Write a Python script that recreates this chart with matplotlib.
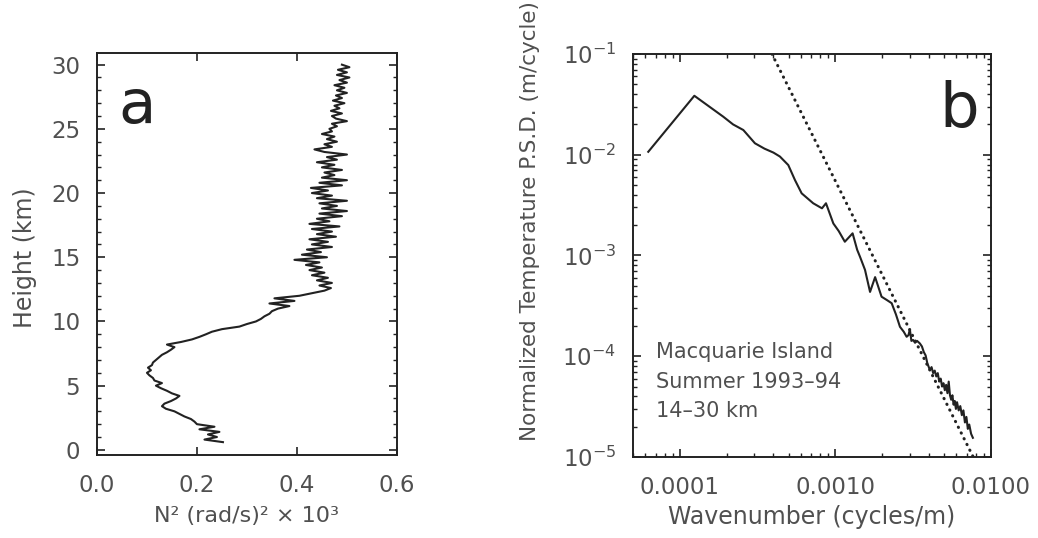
import numpy as np
import matplotlib
matplotlib.use("Agg")
import matplotlib.pyplot as plt
from matplotlib.ticker import MultipleLocator, LogLocator, NullFormatter

# panel a: N^2 profile (height in km, N^2 in (rad/s)^2 x 10^3)
height_km = [
    0.6, 0.8, 1.0, 1.2, 1.4, 1.6, 1.8, 2.0, 2.2, 2.4, 2.6, 2.8, 3.0, 3.2, 3.4, 3.6, 3.8, 4.0,
    4.2, 4.4, 4.6, 4.8, 5.0, 5.2, 5.4, 5.6, 5.8, 6.0, 6.2, 6.4, 6.6, 6.8, 7.0, 7.2, 7.4, 7.6,
    7.8, 8.0, 8.2, 8.4, 8.6, 8.8, 9.0, 9.2, 9.4, 9.6, 9.8, 10.0, 10.2, 10.4, 10.6, 10.8, 11.0,
    11.2, 11.4, 11.6, 11.8, 12.0, 12.2, 12.4, 12.6, 12.8, 13.0, 13.2, 13.4, 13.6, 13.8, 14.0,
    14.2, 14.4, 14.6, 14.8, 15.0, 15.2, 15.4, 15.6, 15.8, 16.0, 16.2, 16.4, 16.6, 16.8, 17.0,
    17.2, 17.4, 17.6, 17.8, 18.0, 18.2, 18.4, 18.6, 18.8, 19.0, 19.2, 19.4, 19.6, 19.8, 20.0,
    20.2, 20.4, 20.6, 20.8, 21.0, 21.2, 21.4, 21.6, 21.8, 22.0, 22.2, 22.4, 22.6, 22.8, 23.0,
    23.2, 23.4, 23.6, 23.8, 24.0, 24.2, 24.4, 24.6, 24.8, 25.0, 25.2, 25.4, 25.6, 25.8, 26.0,
    26.2, 26.4, 26.6, 26.8, 27.0, 27.2, 27.4, 27.6, 27.8, 28.0, 28.2, 28.4, 28.6, 28.8, 29.0,
    29.2, 29.4, 29.6, 29.8, 30.0,
]
n2 = [
    0.252, 0.215, 0.240, 0.222, 0.245, 0.205, 0.235, 0.200, 0.195, 0.188, 0.175, 0.165, 0.155,
    0.138, 0.130, 0.135, 0.148, 0.158, 0.165, 0.150, 0.140, 0.128, 0.118, 0.130, 0.115, 0.112,
    0.105, 0.100, 0.108, 0.102, 0.110, 0.112, 0.118, 0.124, 0.130, 0.140, 0.148, 0.155, 0.140,
    0.168, 0.190, 0.205, 0.218, 0.230, 0.250, 0.285, 0.300, 0.318, 0.328, 0.335, 0.345, 0.350,
    0.362, 0.385, 0.345, 0.395, 0.355, 0.405, 0.430, 0.455, 0.468, 0.445, 0.470, 0.440, 0.462,
    0.430, 0.455, 0.425, 0.450, 0.418, 0.445, 0.395, 0.460, 0.410, 0.448, 0.420, 0.470, 0.430,
    0.462, 0.425, 0.478, 0.440, 0.470, 0.430, 0.485, 0.425, 0.465, 0.440, 0.490, 0.445, 0.500,
    0.450, 0.480, 0.445, 0.500, 0.440, 0.470, 0.430, 0.462, 0.428, 0.490, 0.445, 0.500, 0.450,
    0.475, 0.455, 0.490, 0.450, 0.475, 0.440, 0.480, 0.460, 0.500, 0.455, 0.435, 0.470, 0.455,
    0.480, 0.460, 0.475, 0.450, 0.470, 0.465, 0.480, 0.470, 0.500, 0.478, 0.470, 0.490, 0.468,
    0.485, 0.475, 0.495, 0.472, 0.490, 0.478, 0.500, 0.480, 0.495, 0.475, 0.500, 0.485, 0.505,
    0.480, 0.500, 0.482, 0.505, 0.490,
]

# panel b: temperature spectrum (cycles/m, m/cycle)
wavenumber = [
    6.27e-5, 1.24e-4, 1.55e-4, 1.9e-4, 2.2e-4, 2.56e-4, 3.04e-4, 3.5e-4, 4.0e-4, 4.4e-4,
    4.98e-4, 5.5e-4, 6.07e-4, 7.2e-4, 8.2e-4, 8.7e-4, 9.7e-4, 1.05e-3, 1.15e-3, 1.29e-3,
    1.38e-3, 1.44e-3, 1.55e-3, 1.67e-3, 1.80e-3, 1.98e-3, 2.15e-3, 2.30e-3, 2.45e-3, 2.6e-3,
    2.75e-3, 2.87e-3, 2.95e-3, 3.01e-3, 3.08e-3, 3.16e-3, 3.25e-3, 3.35e-3, 3.49e-3, 3.6e-3,
    3.7e-3, 3.8e-3, 3.9e-3, 4.05e-3, 4.15e-3, 4.25e-3, 4.35e-3, 4.45e-3, 4.55e-3, 4.65e-3,
    4.75e-3, 4.85e-3, 4.95e-3, 5.05e-3, 5.15e-3, 5.25e-3, 5.35e-3, 5.45e-3, 5.55e-3, 5.65e-3,
    5.75e-3, 5.85e-3, 5.95e-3, 6.05e-3, 6.2e-3, 6.35e-3, 6.5e-3, 6.65e-3, 6.8e-3, 6.95e-3,
    7.1e-3, 7.25e-3, 7.45e-3, 7.65e-3,
]
psd = [
    1.07e-2, 3.85e-2, 3.0e-2, 2.39e-2, 2.0e-2, 1.76e-2, 1.30e-2, 1.15e-2, 1.05e-2, 9.6e-3,
    7.9e-3, 5.6e-3, 4.14e-3, 3.3e-3, 2.94e-3, 3.3e-3, 2.08e-3, 1.75e-3, 1.37e-3, 1.66e-3,
    1.14e-3, 9.7e-4, 7.2e-4, 4.35e-4, 6.1e-4, 3.9e-4, 3.6e-4, 3.36e-4, 2.6e-4, 1.96e-4,
    1.75e-4, 1.56e-4, 1.62e-4, 1.85e-4, 1.42e-4, 1.45e-4, 1.36e-4, 1.42e-4, 1.34e-4, 1.25e-4,
    1.10e-4, 1.02e-4, 8.5e-5, 7.3e-5, 7.8e-5, 6.8e-5, 7.2e-5, 6.3e-5, 6.8e-5, 5.6e-5,
    6.0e-5, 5.0e-5, 5.4e-5, 4.6e-5, 5.2e-5, 4.3e-5, 5.6e-5, 4.1e-5, 3.7e-5, 4.1e-5,
    3.3e-5, 3.6e-5, 3.0e-5, 3.5e-5, 2.9e-5, 3.2e-5, 2.6e-5, 2.9e-5, 2.2e-5, 2.5e-5,
    1.9e-5, 2.1e-5, 1.7e-5, 1.55e-5,
]
# saturation line (dotted)
sat_k = [3.91e-4, 7.69e-3]
sat_psd = [1e-1, 1e-5]

x_ticks_b = [1e-4, 1e-3, 1e-2]
x_labels_b = ["0.0001", "0.0010", "0.0100"]

ink = "#222222"
txt = "#505050"

plt.rcParams["font.family"] = "DejaVu Sans"
fig = plt.figure(figsize=(10.38, 5.38), dpi=100)

# ---- panel a ----
ax1 = fig.add_axes([0.0934, 0.1543, 0.289, 0.747])
ax1.plot(n2, height_km, color=ink, lw=1.5)
ax1.set_xlim(0.0, 0.6)
ax1.set_ylim(-0.4, 30.9)
ax1.set_xticks([0.0, 0.2, 0.4, 0.6])
ax1.set_xticklabels(["0.0", "0.2", "0.4", "0.6"])
ax1.set_yticks([0, 5, 10, 15, 20, 25, 30])
ax1.yaxis.set_minor_locator(MultipleLocator(1))
ax1.set_ylabel("Height (km)", fontsize=17, color=txt)
ax1.yaxis.set_label_coords(-0.2, 0.49)
ax1.set_xlabel("N\u00b2 (rad/s)\u00b2 \u00d7 10\u00b3", fontsize=16, color=txt, labelpad=6)
ax1.text(0.07, 0.826, "a", transform=ax1.transAxes, fontsize=44, color=ink)

# ---- panel b ----
ax2 = fig.add_axes([0.6098, 0.1506, 0.3449, 0.749])
ax2.plot(wavenumber, psd, color=ink, lw=1.5)
ax2.plot(sat_k, sat_psd, color=ink, lw=2.2, linestyle=(0, (0.1, 2.0)),
         dash_capstyle="round")
ax2.set_xscale("log")
ax2.set_yscale("log")
ax2.set_xlim(5e-5, 1e-2)
ax2.set_ylim(1e-5, 1e-1)
ax2.set_xticks(x_ticks_b)
ax2.set_xticklabels(x_labels_b)
ax2.xaxis.set_minor_locator(LogLocator(base=10, subs=np.arange(2, 10)))
ax2.xaxis.set_minor_formatter(NullFormatter())
ax2.yaxis.set_major_locator(LogLocator(base=10, numticks=10))
ax2.yaxis.set_minor_locator(LogLocator(base=10, subs=np.arange(2, 10), numticks=10))
ax2.yaxis.set_minor_formatter(NullFormatter())
ax2.set_ylabel("Normalized Temperature P.S.D. (m/cycle)", fontsize=15.5, color=txt)
ax2.yaxis.set_label_coords(-0.26, 0.586)
ax2.set_xlabel("Wavenumber (cycles/m)", fontsize=17, color=txt, labelpad=4)
ax2.text(0.855, 0.819, "b", transform=ax2.transAxes, fontsize=45, color=ink)
ax2.text(0.064, 0.26, "Macquarie Island", transform=ax2.transAxes, fontsize=15,
         color=txt, va="center")
ax2.text(0.064, 0.186, "Summer 1993\u201394", transform=ax2.transAxes, fontsize=15,
         color=txt, va="center")
ax2.text(0.064, 0.114, "14\u201330 km", transform=ax2.transAxes, fontsize=15,
         color=txt, va="center")

for ax in (ax1, ax2):
    for s in ax.spines.values():
        s.set_linewidth(1.4)
        s.set_color(ink)
    ax.tick_params(which="both", direction="in", top=True, right=True,
                   colors=ink, labelcolor=txt, labelsize=16.5)
    ax.tick_params(which="major", length=6, width=1.2)
    ax.tick_params(which="minor", length=3, width=1.0)
    ax.tick_params(axis="x", pad=14)
    ax.tick_params(axis="y", pad=12)

fig.savefig("out.png", dpi=100, facecolor="white")
